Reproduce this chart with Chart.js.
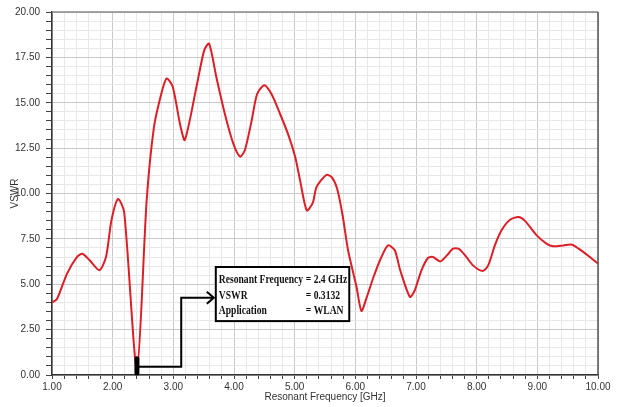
<!DOCTYPE html>
<html>
<head>
<meta charset="utf-8">
<script src="https://cdn.jsdelivr.net/npm/chart.js@4/dist/chart.umd.min.js"></script>
<style>
  html, body { margin: 0; padding: 0; background: #fff; }
  #wrap { width: 618px; height: 407px; }
</style>
</head>
<body>
<div id="wrap"><canvas id="chart" width="618" height="407"></canvas></div>
<script>
// values
const freqGHz = [1.00, 1.08, 1.25, 1.41, 1.50, 1.62, 1.78, 1.89, 1.98, 2.09, 2.19, 2.40,
    2.56, 2.68, 2.80, 2.89, 2.99, 3.11, 3.19, 3.39, 3.51, 3.59, 3.71, 3.85, 3.99,
    4.10, 4.18, 4.29, 4.38, 4.50, 4.62, 4.76, 4.90, 5.01, 5.09, 5.20, 5.30, 5.36,
    5.52, 5.61, 5.70, 5.79, 5.88, 6.02, 6.10, 6.19, 6.30, 6.43, 6.54, 6.65, 6.74,
    6.90, 6.98, 7.09, 7.20, 7.28, 7.40, 7.51, 7.61, 7.70, 7.81, 7.94, 8.10, 8.19,
    8.30, 8.41, 8.55, 8.69, 8.80, 8.99, 9.15, 9.26, 9.43, 9.57, 9.68, 9.85, 10.00]
const vswr = [4.00, 4.17, 5.60, 6.50, 6.68, 6.32, 5.77, 6.50, 8.52, 9.70, 8.97, 0.31,
    9.60, 13.64, 15.47, 16.34, 15.88, 13.83, 12.95, 16.02, 17.90, 18.26, 16.40, 14.38, 12.73,
    12.03, 12.40, 14.00, 15.47, 15.97, 15.47, 14.38, 13.19, 12.00, 10.71, 9.07, 9.50, 10.35,
    11.02, 10.90, 10.26, 8.80, 6.87, 4.85, 3.53, 4.30, 5.40, 6.50, 7.14, 6.87, 5.77,
    4.30, 4.67, 5.77, 6.46, 6.50, 6.26, 6.59, 6.96, 6.96, 6.59, 6.04, 5.73, 6.04,
    7.14, 7.97, 8.55, 8.70, 8.48, 7.69, 7.24, 7.09, 7.14, 7.18, 6.96, 6.54, 6.14]

const annotationLines = [
    ['Resonant Frequency', '= 2.4 GHz'],
    ['VSWR', '= 0.3132'],
    ['Application', '= WLAN'],
]
// marker / leader / box, in axis units
const resonance = { x: 2.4, top: 0.9, leaderY: 0.46, elbowX: 3.13, elbowY: 4.25 }
const box = { x0: 3.70, x1: 5.90, y0: 5.95, y1: 2.97 }

const isMultiple = (v, step) => Math.abs(v / step - Math.round(v / step)) < 1e-6
const tickFont = { family: "'Liberation Sans Narrow', 'Arial Narrow', 'Liberation Sans', sans-serif", size: 10 }

const annotationPlugin = {
    id: 'annotation',
    afterDatasetsDraw(chart) {
        const { ctx, scales: { x, y }, chartArea } = chart
        ctx.save()

        // frame: top gray, right dark
        ctx.lineWidth = 1.5
        ctx.strokeStyle = '#8a8a8a'
        ctx.beginPath()
        ctx.moveTo(chartArea.left, chartArea.top)
        ctx.lineTo(chartArea.right, chartArea.top)
        ctx.stroke()
        ctx.strokeStyle = '#555'
        ctx.beginPath()
        ctx.moveTo(chartArea.right, chartArea.top)
        ctx.lineTo(chartArea.right, chartArea.bottom)
        ctx.stroke()

        // thick marker at resonance
        ctx.strokeStyle = '#000'
        ctx.lineCap = 'round'
        ctx.lineWidth = 5
        ctx.beginPath()
        ctx.moveTo(x.getPixelForValue(resonance.x), y.getPixelForValue(0) - 2)
        ctx.lineTo(x.getPixelForValue(resonance.x), y.getPixelForValue(resonance.top))
        ctx.stroke()

        // leader line with elbow
        ctx.lineCap = 'butt'
        ctx.lineWidth = 2
        const tipX = x.getPixelForValue(box.x0) - 2
        const ey = y.getPixelForValue(resonance.elbowY)
        ctx.beginPath()
        ctx.moveTo(x.getPixelForValue(resonance.x), y.getPixelForValue(resonance.leaderY))
        ctx.lineTo(x.getPixelForValue(resonance.elbowX), y.getPixelForValue(resonance.leaderY))
        ctx.lineTo(x.getPixelForValue(resonance.elbowX), ey)
        ctx.lineTo(tipX, ey)
        ctx.stroke()
        ctx.beginPath()
        ctx.moveTo(tipX - 7, ey - 6)
        ctx.lineTo(tipX, ey)
        ctx.lineTo(tipX - 7, ey + 6)
        ctx.stroke()

        // text box
        const bx0 = x.getPixelForValue(box.x0), bx1 = x.getPixelForValue(box.x1)
        const by0 = y.getPixelForValue(box.y0), by1 = y.getPixelForValue(box.y1)
        ctx.fillStyle = '#fff'
        ctx.fillRect(bx0, by0, bx1 - bx0, by1 - by0)
        ctx.lineWidth = 2
        ctx.strokeRect(bx0, by0, bx1 - bx0, by1 - by0)

        // condensed serif text
        ctx.fillStyle = '#111'
        ctx.font = "bold 12px 'Liberation Serif', 'Times New Roman', serif"
        ctx.textBaseline = 'alphabetic'
        ctx.textAlign = 'left'
        const squeeze = 0.8
        annotationLines.forEach(([label, value], i) => {
            const ty = by0 + 16 + i * 15.5
            ctx.save()
            ctx.translate(bx0 + 3, ty)
            ctx.scale(squeeze, 1)
            ctx.fillText(label, 0, 0)
            ctx.restore()
            ctx.save()
            ctx.translate(bx0 + 90, ty)
            ctx.scale(squeeze, 1)
            ctx.fillText(value, 0, 0)
            ctx.restore()
        })
        ctx.restore()
    }
}

const ctx = document.getElementById('chart').getContext('2d')
new Chart(ctx, {
    type: 'line',
    data: {
        datasets: [{
            data: freqGHz.map((f, i) => ({ x: f, y: vswr[i] })),
            borderColor: '#dc1f26',
            borderWidth: 2,
            pointRadius: 0,
            tension: 0.25,
            fill: false
        }]
    },
    options: {
        responsive: false,
        animation: false,
        maintainAspectRatio: false,
        layout: { padding: { left: 0, right: 20, top: 11, bottom: 0 } },
        plugins: { legend: { display: false }, tooltip: { enabled: false } },
        scales: {
            x: {
                type: 'linear',
                min: 1, max: 10,
                afterFit: s => { s.height = 32 },
                grid: {
                    color: c => isMultiple(c.tick.value, 1) ? '#c9c9c9' : '#e8e8e8',
                    tickColor: '#444',
                    tickLength: 4,
                    lineWidth: 1
                },
                border: { color: '#333', width: 1.5 },
                ticks: {
                    stepSize: 0.2,
                    autoSkip: false,
                    maxRotation: 0,
                    padding: 2,
                    color: '#333',
                    font: tickFont,
                    callback: v => isMultiple(v, 1) ? v.toFixed(2) : ''
                },
                title: {
                    display: true,
                    text: 'Resonant Frequency [GHz]',
                    color: '#333',
                    font: tickFont,
                    padding: { top: 0, bottom: 4 }
                }
            },
            y: {
                min: 0, max: 20,
                afterFit: s => { s.width = 52 },
                grid: {
                    color: c => isMultiple(c.tick.value, 2.5) ? '#c9c9c9' : '#e8e8e8',
                    tickColor: '#444',
                    tickLength: 6,
                    lineWidth: 1
                },
                border: { color: '#333', width: 1.5 },
                ticks: {
                    stepSize: 0.5,
                    autoSkip: false,
                    padding: 6,
                    color: '#333',
                    font: tickFont,
                    callback: v => isMultiple(v, 2.5) ? v.toFixed(2) : ''
                },
                title: {
                    display: true,
                    text: 'VSWR',
                    color: '#333',
                    font: tickFont,
                    padding: { top: 9, bottom: 0 }
                }
            }
        }
    },
    plugins: [annotationPlugin]
})
</script>
</body>
</html>
